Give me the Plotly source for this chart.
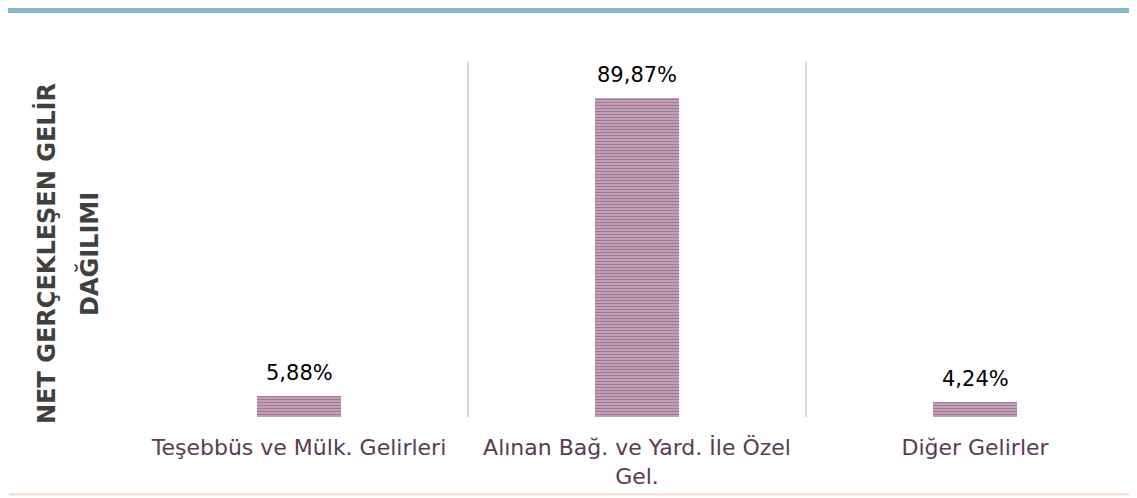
import plotly.graph_objects as go

categories = ["Teşebbüs ve Mülk. Gelirleri", "Alınan Bağ. ve Yard. İle Özel<br>Gel.", "Diğer Gelirler"]
values = [5.88, 89.87, 4.24]
value_labels = ["5,88%", "89,87%", "4,24%"]
y_title_lines = ["NET GERÇEKLEŞEN GELİR", "DAĞILIMI"]

OFF = 8  # default body margin of the html page
W, H = 1137 - OFF, 498 - OFF
L, R, T, B = 130 - OFF, 0, 62 - OFF, 498 - 417
pw = W - L - R
ph = H - T - B
cat_px = 338.0
x_start = -0.5
x_end = x_start + pw / cat_px

def px_x(p):
    return (p - OFF - L) / pw

def px_y(p):
    return (H - B - (p - OFF)) / ph

xs = list(range(len(categories)))
FONT = "DejaVu Sans, sans-serif"

fig = go.Figure()
fig.add_trace(go.Bar(
    x=xs, y=values, width=0.25,
    marker=dict(
        color="#d4b2c8",
        line=dict(width=0),
        pattern=dict(shape="-", fgcolor="#6a3a5c", bgcolor="#d8b9cd", size=3, solidity=0.6, fillmode="overlay"),
    ),
    hoverinfo="skip",
))

for x, v, t in zip(xs, values, value_labels):
    fig.add_annotation(x=x, y=v, text=t, showarrow=False, yanchor="bottom", yshift=9,
                       font=dict(family=FONT, size=21, color="#000000"))

for line, cx in zip(y_title_lines, [47, 89]):
    fig.add_annotation(xref="paper", yref="paper", x=px_x(cx), y=px_y(254), text=line,
                       textangle=-90, showarrow=False, xanchor="center", yanchor="middle",
                       font=dict(family=FONT, size=24, color="#404040", weight="bold"))

fig.add_shape(type="rect", xref="paper", yref="paper", x0=px_x(5), x1=px_x(1140), y0=px_y(13), y1=px_y(7),
              fillcolor="#86b8d0", line=dict(width=0), layer="above")
fig.add_shape(type="rect", xref="paper", yref="paper", x0=px_x(9), x1=px_x(1140), y0=px_y(495.5), y1=px_y(493),
              fillcolor="#f9e0d4", line=dict(width=0), layer="above")

fig.update_layout(
    width=W, height=H,
    margin=dict(l=L, r=R, t=T, b=B),
    paper_bgcolor="white", plot_bgcolor="white",
    showlegend=False,
    bargap=0,
    xaxis=dict(
        range=[x_start, x_end], tickvals=xs, ticktext=categories, showgrid=False, zeroline=False,
        showline=False, ticks="", tickfont=dict(family=FONT, size=22, color="#5b3a52"),
        ticklabelstandoff=15,
        minor=dict(tickvals=[-0.5, 0.5, 1.5, 2.5], showgrid=True, gridcolor="#d9d9d9", gridwidth=2, ticks=""),
        fixedrange=True,
    ),
    yaxis=dict(range=[0, 100], showgrid=False, zeroline=False, showticklabels=False, showline=False, ticks=""),
)

fig.write_html("out.html")
